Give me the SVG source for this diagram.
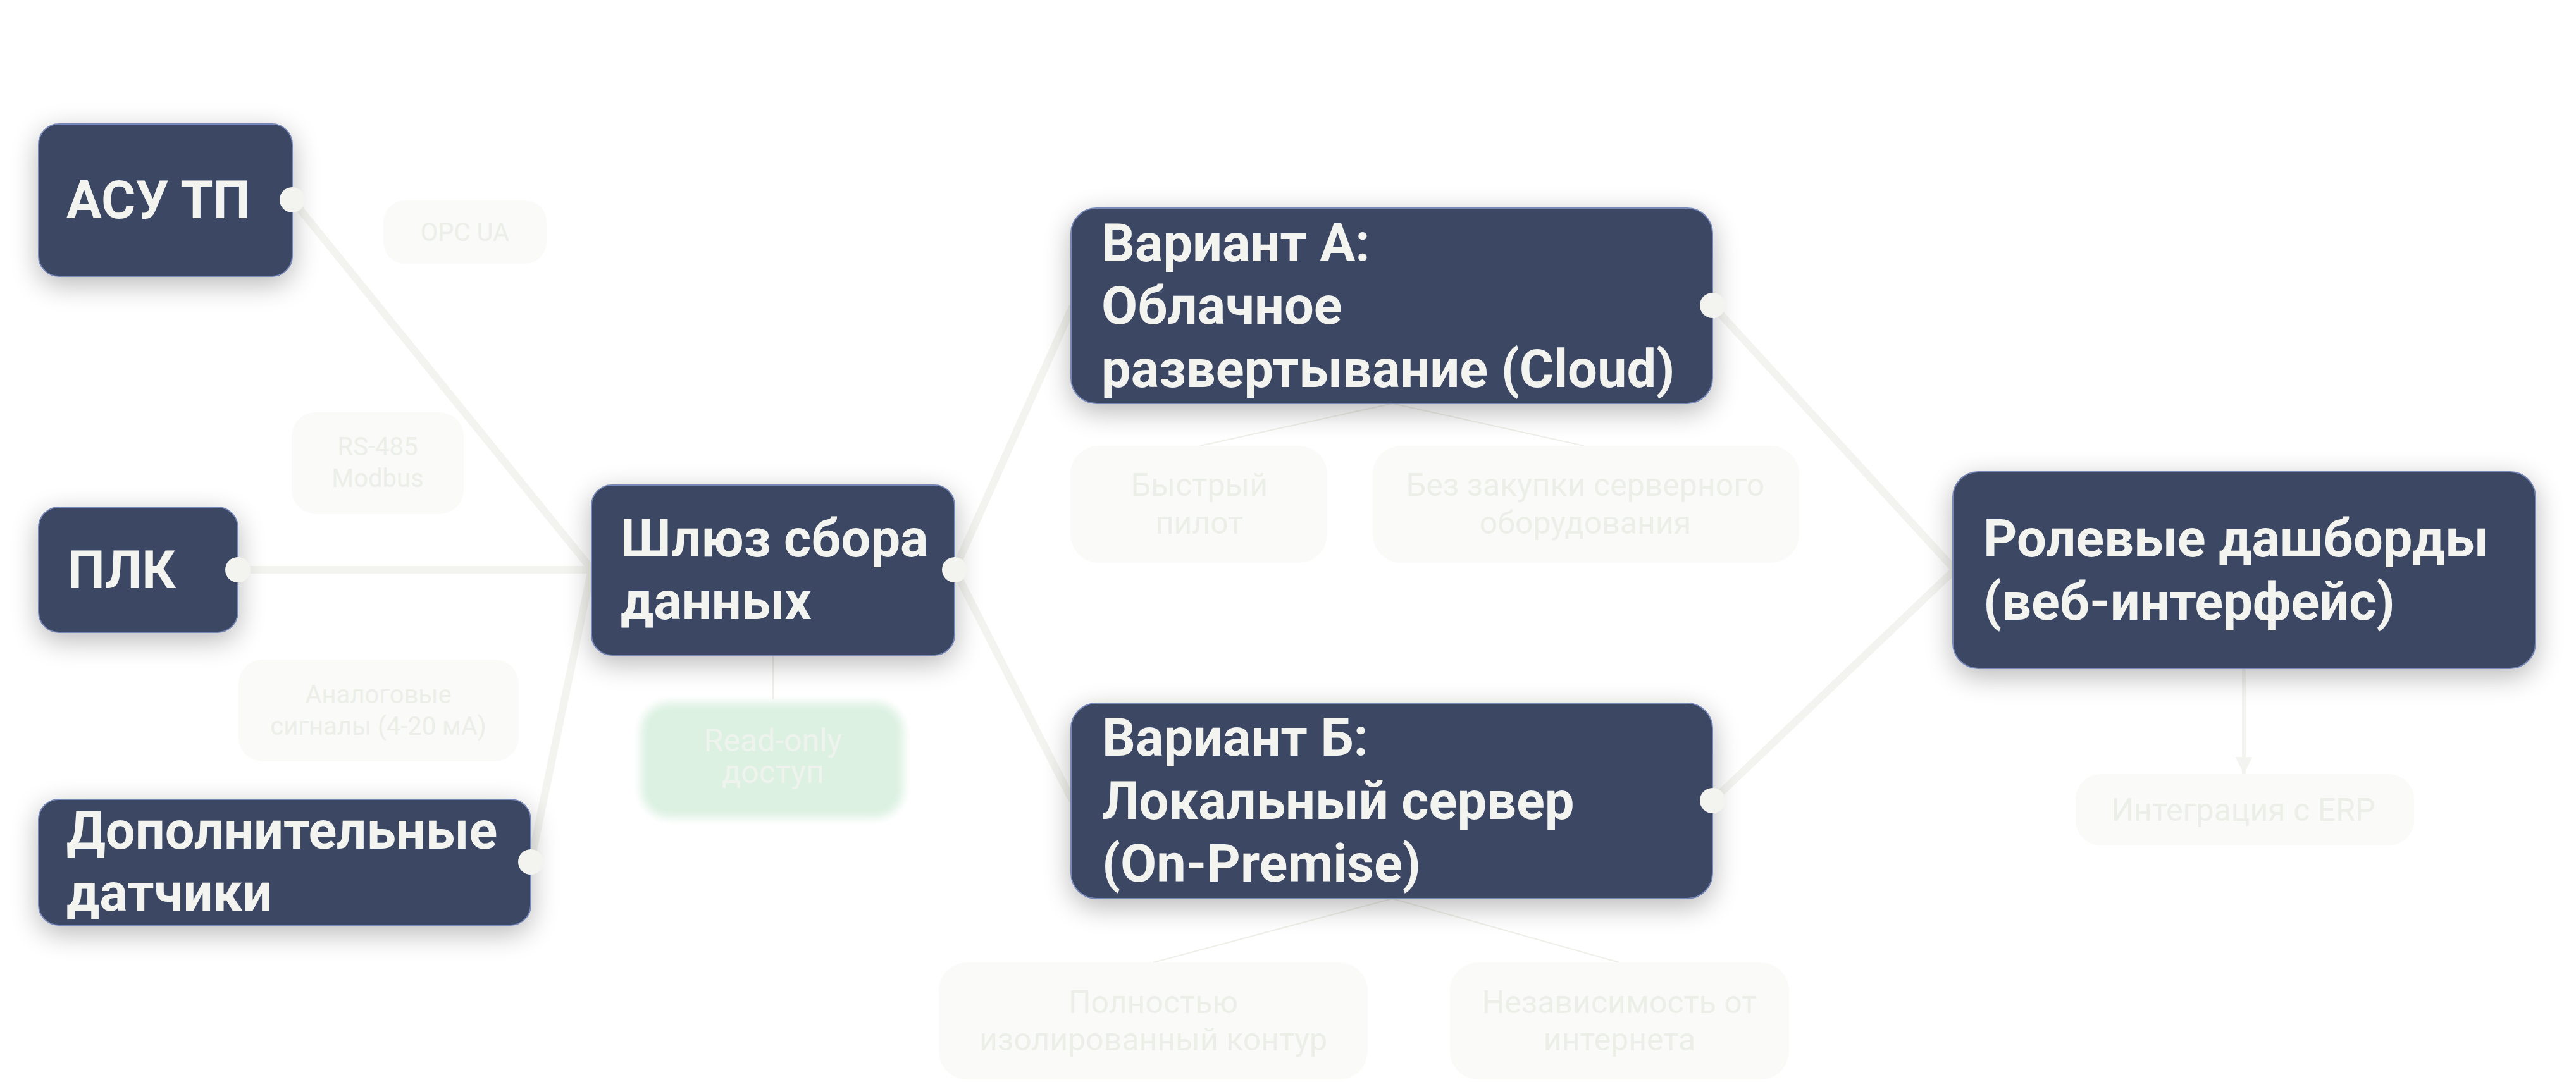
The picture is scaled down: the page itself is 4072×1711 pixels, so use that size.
<svg xmlns="http://www.w3.org/2000/svg" width="4072" height="1711" viewBox="0 0 4072 1711">
<defs>
<filter id="sh" x="-30%" y="-40%" width="160%" height="190%">
<feGaussianBlur in="SourceAlpha" stdDeviation="22"/>
<feOffset dy="12" result="b"/>
<feComponentTransfer><feFuncA type="linear" slope="0.28"/></feComponentTransfer>
<feMerge><feMergeNode/><feMergeNode in="SourceGraphic"/></feMerge>
</filter>
<filter id="glow" x="-20%" y="-20%" width="140%" height="140%">
<feGaussianBlur stdDeviation="7"/>
</filter>
<marker id="ah" viewBox="0 0 10 10" refX="10" refY="5" markerWidth="4.5" markerHeight="4.5" orient="auto" markerUnits="strokeWidth">
<path d="M0,0 L10,5 L0,10 z" fill="#f3f4ef"/>
</marker>
</defs>
<style>
.node rect{fill:#3a4663;stroke:#7888b6;stroke-width:2}
.node text{font-family:Roboto,"Liberation Sans",sans-serif;font-weight:700;font-size:83px;fill:#f3f4ef}
.leaf rect{fill:#fafaf8}
.leaf text,.elabel text{font-family:Roboto,"Liberation Sans",sans-serif;font-size:50px;fill:#eceee8;text-anchor:middle}
.elabel rect{fill:#fafaf8}
.elabel text{font-size:40px}
.conn{stroke:#f3f4ef;stroke-width:12;fill:none}
.thin{stroke:#efefe9;stroke-width:2;fill:none}
.dot{fill:#f3f4ef}
</style>
<rect width="4072" height="1711" fill="#ffffff"/>

<g id="connectors">
<line class="conn" x1="462" y1="316" x2="935" y2="900"/>
<line class="conn" x1="376" y1="901" x2="935" y2="901"/>
<line class="conn" x1="839" y1="1363" x2="935" y2="901"/>
<line class="conn" x1="1509" y1="901" x2="1695" y2="485"/>
<line class="conn" x1="1509" y1="901" x2="1695" y2="1266"/>
<line class="conn" x1="2707" y1="483" x2="3090" y2="901"/>
<line class="conn" x1="2707" y1="1266" x2="3090" y2="901"/>
<line stroke="#f3f4ef" stroke-width="6" x1="3547" y1="1057" x2="3547" y2="1224" marker-end="url(#ah)"/>
<line class="thin" x1="1222" y1="1036" x2="1222" y2="1106"/>
<line class="thin" x1="2201" y1="638" x2="1897" y2="705"/>
<line class="thin" x1="2201" y1="638" x2="2504" y2="705"/>
<line class="thin" x1="2201" y1="1421" x2="1823" y2="1522"/>
<line class="thin" x1="2201" y1="1421" x2="2560" y2="1522"/>
</g>

<g id="label-opcua" class="elabel"><rect x="606" y="317" width="258" height="100" rx="34"/><text x="735" y="381">OPC UA</text></g>
<g id="label-rs485" class="elabel"><rect x="461" y="652" width="272" height="161" rx="38"/><text x="597" y="720">RS-485</text><text x="597" y="770">Modbus</text></g>
<g id="label-analog" class="elabel"><rect x="377" y="1043" width="443" height="161" rx="38"/><text x="598" y="1112">Аналоговые</text><text x="598" y="1162">сигналы (4-20 мА)</text></g>

<g id="n-asu" class="node" filter="url(#sh)"><rect x="61" y="196" width="401" height="241" rx="32"/><text x="105" y="345">АСУ ТП</text></g>
<g id="n-plk" class="node" filter="url(#sh)"><rect x="61" y="802" width="315" height="198" rx="32"/><text x="107" y="930">ПЛК</text></g>
<g id="n-dop" class="node" filter="url(#sh)"><rect x="61" y="1264" width="778" height="199" rx="32"/><text x="105" y="1342">Дополнительные</text><text x="105" y="1440">датчики</text></g>
<g id="n-gw" class="node" filter="url(#sh)"><rect x="935" y="767" width="574" height="269" rx="32"/><text x="981" y="880">Шлюз сбора</text><text x="981" y="979">данных</text></g>
<g id="n-a" class="node" filter="url(#sh)"><rect x="1693" y="329" width="1014" height="309" rx="40"/><text x="1741" y="413">Вариант А:</text><text x="1741" y="512">Облачное</text><text x="1741" y="612">развертывание (Cloud)</text></g>
<g id="n-b" class="node" filter="url(#sh)"><rect x="1693" y="1112" width="1014" height="309" rx="40"/><text x="1742" y="1195">Вариант Б:</text><text x="1742" y="1295">Локальный сервер</text><text x="1742" y="1394">(On-Premise)</text></g>
<g id="n-dash" class="node" filter="url(#sh)"><rect x="3087" y="746" width="921" height="311" rx="40"/><text x="3135" y="880">Ролевые дашборды</text><text x="3135" y="980">(веб-интерфейс)</text></g>

<g id="n-readonly"><rect x="1013" y="1111" width="415" height="182" rx="45" fill="#dcf1e2" filter="url(#glow)"/><text x="1222" y="1188" font-family="Roboto,'Liberation Sans',sans-serif" font-size="50" fill="#eef3ee" text-anchor="middle">Read-only</text><text x="1222" y="1238" font-family="Roboto,'Liberation Sans',sans-serif" font-size="50" fill="#eef3ee" text-anchor="middle">доступ</text></g>
<g id="n-fast" class="leaf"><rect x="1692" y="705" width="406" height="185" rx="45"/><text x="1896" y="784">Быстрый</text><text x="1896" y="844">пилот</text></g>
<g id="n-noserver" class="leaf"><rect x="2170" y="705" width="674" height="185" rx="45"/><text x="2506" y="784">Без закупки серверного</text><text x="2506" y="844">оборудования</text></g>
<g id="n-isolated" class="leaf"><rect x="1484" y="1522" width="678" height="185" rx="45"/><text x="1823" y="1602">Полностью</text><text x="1823" y="1661">изолированный контур</text></g>
<g id="n-offline" class="leaf"><rect x="2292" y="1522" width="536" height="185" rx="45"/><text x="2560" y="1602">Независимость от</text><text x="2560" y="1661">интернета</text></g>
<g id="n-erp" class="leaf"><rect x="3281" y="1224" width="535" height="113" rx="40"/><text x="3546" y="1298">Интеграция с ERP</text></g>

<g id="dots">
<circle class="dot" cx="462" cy="316" r="20"/>
<circle class="dot" cx="376" cy="901" r="20"/>
<circle class="dot" cx="839" cy="1363" r="20"/>
<circle class="dot" cx="1509" cy="901" r="20"/>
<circle class="dot" cx="2707" cy="483" r="20"/>
<circle class="dot" cx="2707" cy="1266" r="20"/>
</g>
</svg>
